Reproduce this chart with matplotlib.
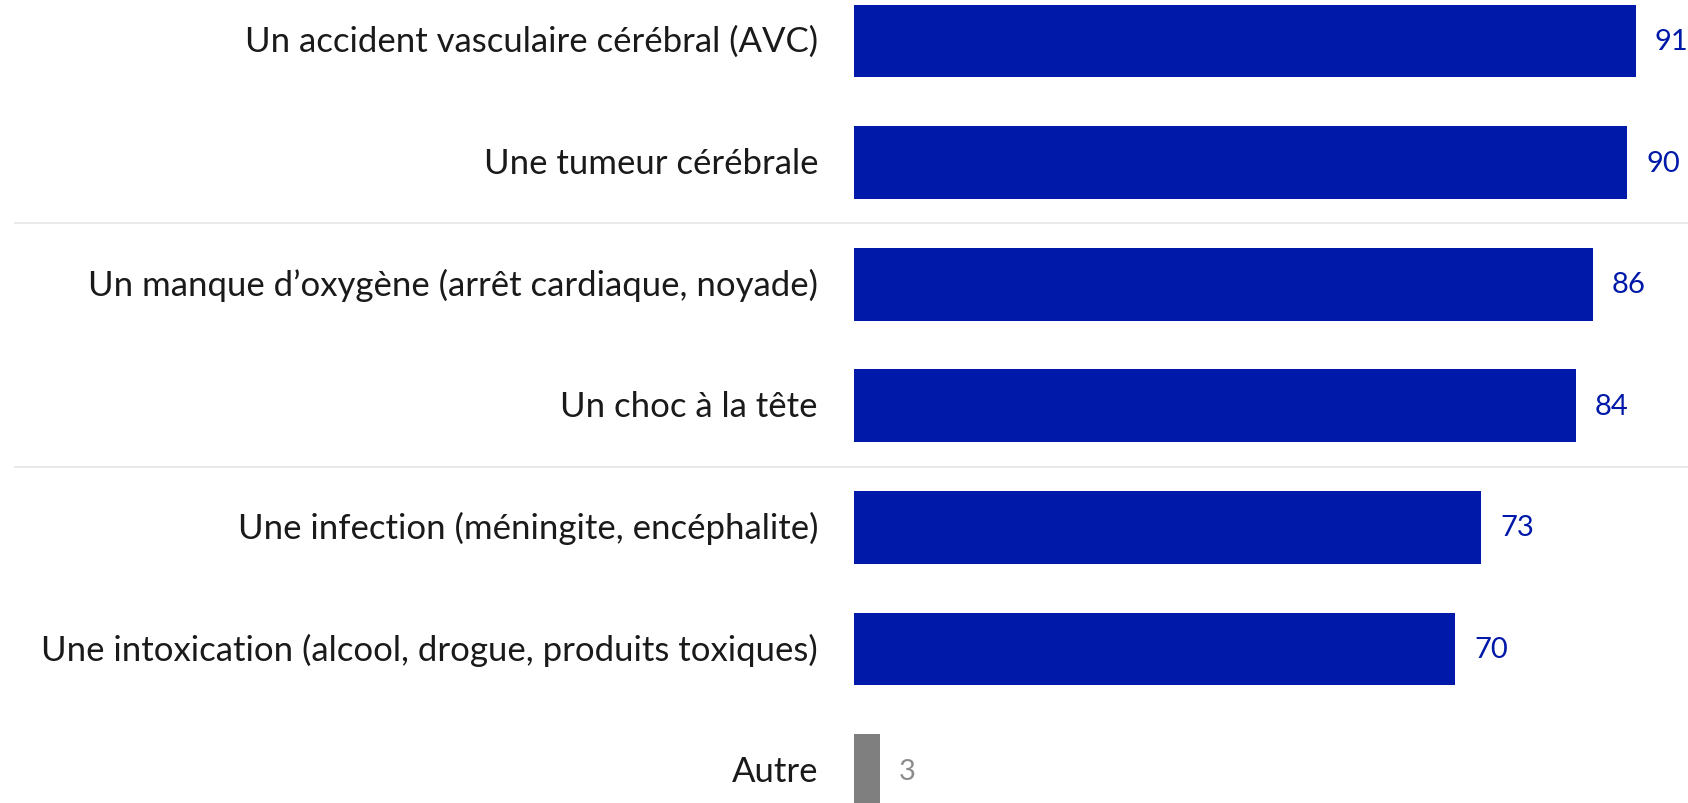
import matplotlib
matplotlib.use("Agg")
import matplotlib.pyplot as plt
import matplotlib.transforms as mtransforms

# données
categories = [
    "Un accident vasculaire cérébral (AVC)",
    "Une tumeur cérébrale",
    "Un manque d\u2019oxygène (arrêt cardiaque, noyade)",
    "Un choc à la tête",
    "Une infection (méningite, encéphalite)",
    "Une intoxication (alcool, drogue, produits toxiques)",
    "Autre",
]
valeurs = [91, 90, 86, 84, 73, 70, 3]
couleurs = ["#0019A8"] * 6 + ["#7F7F7F"]
couleurs_txt = ["#0019A8"] * 6 + ["#8C8C8C"]
separateurs = [1.5, 3.5]

plt.rcParams["font.family"] = ["Lato", "DejaVu Sans"]

W, H, DPI = 1688, 804, 100
fig = plt.figure(figsize=(W / DPI, H / DPI), dpi=DPI)
x0 = 854 / W
ax = fig.add_axes([x0, 0, 1 - x0, 1])

pos = list(range(len(categories)))
ax.barh(pos, valeurs, height=0.6, color=couleurs, left=0)

ax.set_xlim(0, (W - 854) / 8.59)
ax.set_ylim((H - 42) / 121.6, -42 / 121.6)
ax.axis("off")

for i, (cat, v) in enumerate(zip(categories, valeurs)):
    ax.text(-36 / 8.59, i, cat, ha="right", va="center", fontsize=25,
            color="#1a1a1a", clip_on=False)
    ax.text(v + 19 / 8.59, i, str(v), ha="left", va="center", fontsize=21,
            color=couleurs_txt[i], clip_on=False)

trans = mtransforms.blended_transform_factory(fig.transFigure, ax.transData)
for s in separateurs:
    ax.plot([15 / W, 1], [s, s], transform=trans, color="#e6e6e6", lw=1.2,
            clip_on=False)

fig.savefig("out.png", dpi=DPI)
